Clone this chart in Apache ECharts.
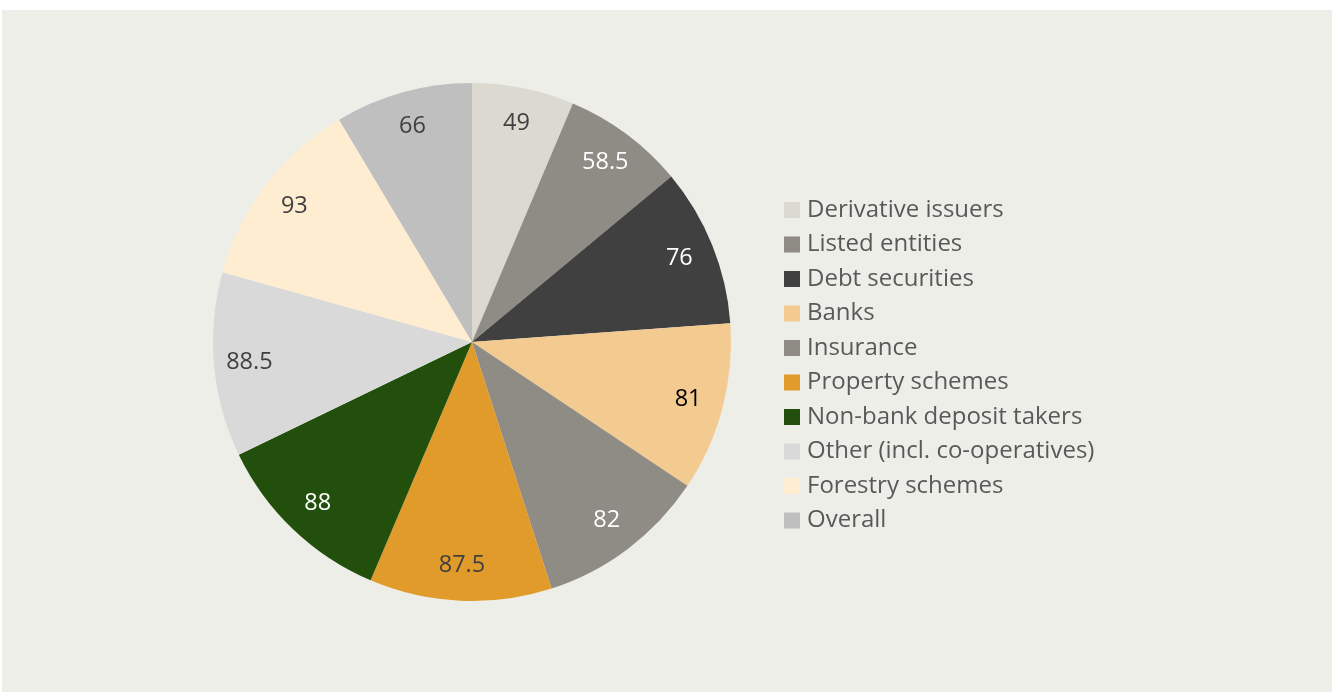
<!DOCTYPE html>
<html>
<head>
<meta charset="utf-8">
<script src="https://cdn.jsdelivr.net/npm/echarts@6/dist/echarts.min.js"></script>
<style>
  html, body { margin: 0; padding: 0; background: #ffffff; }
  #chart { position: absolute; left: 2px; top: 10px; width: 1330px; height: 682px; }
</style>
</head>
<body>
<div id="chart"></div>
<script>
// Sector categories and their scores
const categories = [
  'Derivative issuers', 'Listed entities', 'Debt securities', 'Banks', 'Insurance',
  'Property schemes', 'Non-bank deposit takers', 'Other (incl. co-operatives)',
  'Forestry schemes', 'Overall'
];
const values = [49, 58.5, 76, 81, 82, 87.5, 88, 88.5, 93, 66];
const sliceColors = [
  '#dcdad0', '#8f8b85', '#404040', '#f3ca8f', '#8f8b85',
  '#e19b2a', '#234f0c', '#d9d9d9', '#feedd0', '#bfbfbf'
];
const labelColors = [
  '#404040', '#ffffff', '#ffffff', '#000000', '#ffffff',
  '#404040', '#ffffff', '#404040', '#404040', '#404040'
];

const FONT = '"Open Sans", sans-serif';
const center = [470, 332];
const R = 259;

const sliceData = categories.map((name, i) => ({
  name, value: values[i], itemStyle: { color: sliceColors[i] }
}));
const labelData = categories.map((name, i) => ({
  name, value: values[i],
  label: { color: labelColors[i] }
}));

const chart = echarts.init(document.getElementById('chart'), null, { renderer: 'canvas' });
chart.setOption({
  backgroundColor: '#eeeee9',
  animation: false,
  legend: {
    orient: 'vertical',
    left: 782,
    top: 188,
    padding: 0,
    icon: 'rect',
    itemWidth: 16,
    itemHeight: 16,
    itemGap: 10.5,
    data: categories,
    selectedMode: false,
    textStyle: { fontFamily: FONT, fontSize: 24, lineHeight: 24, color: '#595959', padding: [0, 0, 0, 2] }
  },
  series: [
    {
      type: 'pie',
      center: center,
      radius: [0, R],
      startAngle: 90,
      clockwise: true,
      data: sliceData,
      label: { show: false },
      labelLine: { show: false },
      emphasis: { disabled: true },
      silent: true
    },
    {
      // ring that only carries the value labels near the rim
      type: 'pie',
      center: center,
      radius: [182, R],
      startAngle: 90,
      clockwise: true,
      data: labelData,
      itemStyle: { color: 'rgba(0,0,0,0)' },
      label: {
        show: true,
        position: 'inside',
        formatter: '{c}',
        fontFamily: FONT,
        fontSize: 23.5
      },
      labelLine: { show: false },
      emphasis: { disabled: true },
      silent: true
    }
  ]
});
</script>
</body>
</html>
